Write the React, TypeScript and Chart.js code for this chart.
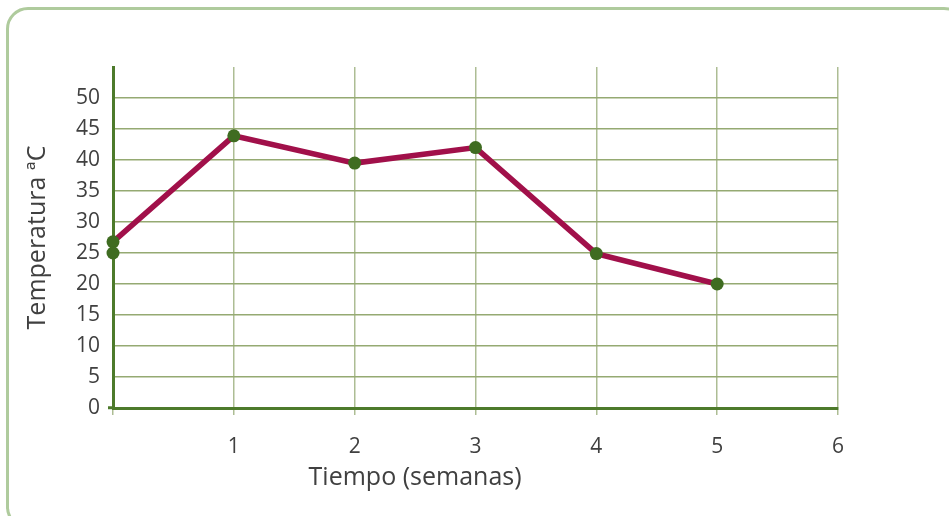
import React, { useEffect, useRef } from "react";
import { Chart, registerables } from "chart.js";

Chart.register(...registerables);

const weeks = [0, 1, 2, 3, 4, 5];
const temperatures = [26.8, 43.9, 39.5, 42.0, 24.9, 20];
const extraWeeks = [0];
const extraTemps = [25];
const xTicks = [0, 1, 2, 3, 4, 5, 6];
const yTicks = [0, 5, 10, 15, 20, 25, 30, 35, 40, 45, 50];
const xTitle = "Tiempo (semanas)";
const yTitle = "Temperatura ªC";
const xTitleAt = 2.5;

const FONT = "'Open Sans', 'DejaVu Sans', sans-serif";
const AXIS = "#4d7a2b";
const HGRID = "#95aa72";
const VGRID = "#adbd94";
const TEXT = "#404040";

const xTitlePlugin = {
  id: "xTitlePlugin",
  afterDraw(chart: any) {
    const ctx = chart.ctx;
    const x = chart.scales.x.getPixelForValue(xTitleAt);
    ctx.save();
    ctx.font = `25px ${FONT}`;
    ctx.fillStyle = TEXT;
    ctx.textAlign = "center";
    ctx.textBaseline = "middle";
    ctx.fillText(xTitle, x, chart.scales.x.bottom - 38);
    ctx.restore();
  },
};

export default function App() {
  const ref = useRef<HTMLCanvasElement | null>(null);

  useEffect(() => {
    document.body.style.margin = "0";
    document.body.style.overflow = "hidden";
    const canvas = ref.current;
    if (!canvas) return;
    const chart = new Chart(canvas, {
      type: "scatter",
      plugins: [xTitlePlugin],
      data: {
        datasets: [
          {
            data: weeks.map((w, i) => ({ x: w, y: temperatures[i] })),
            showLine: true,
            borderColor: "#a1104a",
            borderWidth: 5.5,
            pointRadius: 6.5,
            pointBackgroundColor: "#3f6c21",
            pointBorderWidth: 0,
            clip: false,
            order: 1,
          },
          {
            data: extraWeeks.map((w, i) => ({ x: w, y: extraTemps[i] })),
            showLine: false,
            pointRadius: 6.5,
            pointBackgroundColor: "#3f6c21",
            pointBorderWidth: 0,
            clip: false,
            order: 0,
          },
        ],
      },
      options: {
        animation: false,
        responsive: false,
        maintainAspectRatio: false,
        layout: { padding: { left: 0, right: 111, top: 67, bottom: 0 } },
        plugins: { legend: { display: false }, tooltip: { enabled: false } },
        scales: {
          x: {
            type: "linear",
            min: 0,
            max: 6,
            afterBuildTicks: (s: any) => {
              s.ticks = xTicks.map((v) => ({ value: v }));
            },
            afterFit: (s: any) => {
              s.height = 108;
            },
            ticks: {
              callback: (v: any) => (v === 0 ? "" : String(v)),
              color: TEXT,
              font: { family: FONT, size: 21 },
              padding: 19,
              maxRotation: 0,
            },
            grid: {
              color: VGRID,
              lineWidth: 1.5,
              tickLength: 7,
              tickColor: VGRID,
              drawTicks: true,
            },
            border: { color: AXIS, width: 3 },
            title: { display: false },
          },
          y: {
            type: "linear",
            min: 0,
            max: 55,
            afterBuildTicks: (s: any) => {
              s.ticks = [...yTicks, 55].map((v) => ({ value: v }));
            },
            afterFit: (s: any) => {
              s.width = 113;
            },
            ticks: {
              callback: (v: any) => (v === 55 ? "" : String(v)),
              color: TEXT,
              font: { family: FONT, size: 21 },
              padding: 8,
            },
            grid: {
              color: (c: any) => (c.tick && c.tick.value === 55 ? "rgba(0,0,0,0)" : HGRID),
              lineWidth: 1.5,
              tickLength: 5,
              tickColor: (c: any) => (c.tick && c.tick.value === 0 ? AXIS : "rgba(0,0,0,0)"),
              tickWidth: 3,
            },
            border: { color: AXIS, width: 3 },
            title: {
              display: true,
              text: yTitle,
              color: TEXT,
              font: { family: FONT, size: 25 },
              padding: { top: 23, bottom: 0 },
            },
          },
        },
      },
    });
    return () => chart.destroy();
  }, []);

  return (
    <div style={{ position: "fixed", left: 0, top: 0, width: 949, height: 516, overflow: "hidden", background: "#fff" }}>
      <div
        style={{
          position: "absolute",
          left: 6,
          top: 7,
          width: 960,
          height: 522,
          border: "3px solid #afcb9d",
          borderRadius: 22,
          boxSizing: "border-box",
        }}
      />
      <canvas ref={ref} width={949} height={516} style={{ position: "absolute", left: 0, top: 0, width: 949, height: 516 }} />
    </div>
  );
}
